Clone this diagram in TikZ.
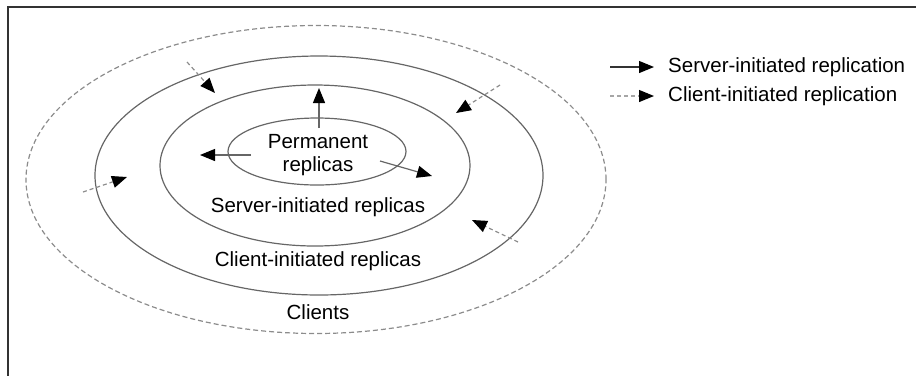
\documentclass[tikz,border=0pt]{standalone}
\usepackage{fontspec}
\setmainfont{Liberation Sans}
\usetikzlibrary{arrows.meta,shapes.geometric}

\begin{document}
\begin{tikzpicture}[
  x=1pt,y=-1pt,
  >={Triangle[length=15pt,width=12pt,black]},
  ring/.style={ellipse,draw=black!60,line width=1.2pt,inner sep=0pt},
  outerring/.style={ring,draw=black!45,dash pattern=on 5pt off 3pt},
  label/.style={font=\fontsize{20.5}{23}\selectfont,align=center,inner sep=0pt},
  srvarrow/.style={->,draw=black!60,line width=1.2pt},
  clnarrow/.style={->,draw=black!45,line width=1.2pt,dash pattern=on 4pt off 3pt}
]
\useasboundingbox (0,0) rectangle (916,376);

% frame
\draw[black!80,line width=2pt] (916,6.5) -- (7.5,6.5) -- (7.5,376);

% rings
\node[outerring,minimum width=580pt,minimum height=308pt] (clients) at (316,179.5) {};
\node[ring,minimum width=448pt,minimum height=239pt] (clientrep) at (319,175.5) {};
\node[ring,minimum width=310pt,minimum height=161pt] (serverrep) at (315,165.5) {};
\node[ring,minimum width=178pt,minimum height=67pt] (perm) at (317,151.5) {};

% texts
\node[label] (permlbl) at (318,155) {Permanent\\replicas};
\node[label] (serverlbl) at (318,207) {Server-initiated replicas};
\node[label] (clientlbl) at (318,261) {Client-initiated replicas};
\node[label] (clientslbl) at (318,312) {Clients};

% server-initiated replication
\coordinate (up0) at (319,128);   \coordinate (up1) at (319,88);
\coordinate (lf0) at (251,155);   \coordinate (lf1) at (200,155);
\coordinate (rt0) at (380,161);   \coordinate (rt1) at (432,176);
\draw[srvarrow] (up0) -- (up1);
\draw[srvarrow] (lf0) -- (lf1);
\draw[srvarrow] (rt0) -- (rt1);

% client-initiated replication
\coordinate (tl0) at (187,62);    \coordinate (tl1) at (215,93);
\coordinate (tr0) at (500,85);    \coordinate (tr1) at (456,113);
\coordinate (ml0) at (83,192);    \coordinate (ml1) at (127,177);
\coordinate (br0) at (518,242);   \coordinate (br1) at (472,220);
\draw[clnarrow] (tl0) -- (tl1);
\draw[clnarrow] (tr0) -- (tr1);
\draw[clnarrow] (ml0) -- (ml1);
\draw[clnarrow] (br0) -- (br1);

% legend
\coordinate (ks0) at (610,67);    \coordinate (ks1) at (654,67);
\coordinate (kc0) at (610,96);    \coordinate (kc1) at (654,96);
\draw[srvarrow,draw=black!80] (ks0) -- (ks1);
\draw[clnarrow,draw=black!35] (kc0) -- (kc1);
\node[label,anchor=west] (keysrv) at (668,67) {Server-initiated replication};
\node[label,anchor=west] (keycln) at (668,96) {Client-initiated replication};

\end{tikzpicture}
\end{document}
